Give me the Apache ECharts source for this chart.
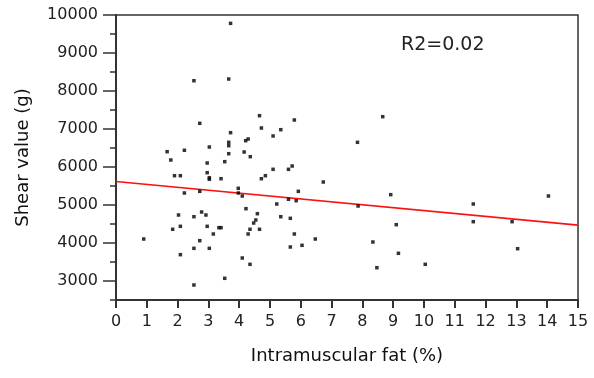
<!DOCTYPE html>
<html><head><meta charset="utf-8">
<script src="https://cdn.jsdelivr.net/npm/echarts@6/dist/echarts.min.js"></script>
<style>html,body{margin:0;padding:0;background:#fff}#c{width:594px;height:378px}</style>
</head><body><div id="c"></div>
<script>
// Intramuscular fat (%) values of samples
var fatValues = [3.72,2.53,3.66,2.72,4.66,5.79,4.72,3.72,5.35,5.10,4.21,4.29,3.66,3.66,3.03,1.66,2.22,4.16,3.66,4.36,1.78,2.96,3.53,5.10,5.60,5.72,1.90,2.09,2.96,3.03,3.03,3.41,4.72,4.85,
6.73,2.22,2.72,3.97,3.97,4.10,5.22,5.60,5.92,5.85,2.78,2.92,2.03,2.53,4.22,4.59,4.54,4.47,5.35,5.66,1.84,2.09,2.96,3.34,3.41,3.16,4.35,4.29,4.66,5.79,0.90,2.72,6.47,2.53,3.03,5.66,6.04,2.09,4.10,4.35,3.53,2.53,
8.66,7.84,8.92,7.86,11.60,11.60,12.86,14.04,9.10,8.34,9.17,8.47,10.04,13.04];
// Shear values (g) of samples
var shearValues = [9780,8270,8315,7150,7350,7237,7026,6903,6982,6816,6692,6737,6650,6560,6526,6403,6440,6395,6350,6271,6184,6105,6140,5939,5939,6026,5771,5771,5850,5718,5676,5692,5692,5771,
5605,5316,5360,5439,5316,5237,5026,5150,5360,5113,4816,4737,4737,4692,4903,4771,4605,4526,4692,4650,4361,4439,4439,4403,4403,4237,4361,4237,4361,4237,4105,4061,4105,3860,3860,3895,3939,3693,3605,3439,3071,2895,
7324,6650,5272,4974,5026,4561,4561,5237,4482,4026,3729,3350,3439,3850];
// Regression line end points
var fitX = [0, 15];
var fitY = [5620, 4470];
// Tick labels
var xTicks = [0,1,2,3,4,5,6,7,8,9,10,11,12,13,14,15];
var yTicks = [3000,4000,5000,6000,7000,8000,9000,10000];
var yMinorTicks = [2500,3500,4500,5500,6500,7500,8500,9500];
var r2Label = 'R2=0.02';

var points = fatValues.map(function(v,i){return [v, shearValues[i]];});
var fitLine = fitX.map(function(v,i){return [v, fitY[i]];});

var chart = echarts.init(document.getElementById('c'), null, {renderer:'canvas'});
var font = 'DejaVu Sans';
var axisColor = '#333';
chart.setOption({
  animation:false,
  grid:{left:116, top:15, right:16, bottom:78, show:true, borderColor:axisColor, borderWidth:1.5, backgroundColor:'transparent'},
  xAxis:{
    type:'value', min:0, max:15, interval:1,
    name:'Intramuscular fat (%)', nameLocation:'middle', nameGap:47,
    nameTextStyle:{fontFamily:font, fontSize:18, color:'#111'},
    axisLine:{show:true, onZero:false, lineStyle:{color:axisColor, width:2}},
    axisTick:{show:true, length:8, lineStyle:{color:axisColor, width:2}, customValues:xTicks},
    axisLabel:{fontFamily:font, fontSize:16, color:'#222', margin:14, customValues:xTicks, formatter:function(v){return String(v);}},
    splitLine:{show:false}
  },
  yAxis:[{
    type:'value', min:2500, max:10000, interval:500,
    name:'Shear value (g)', nameLocation:'middle', nameGap:84, nameRotate:90,
    nameTextStyle:{fontFamily:font, fontSize:18, color:'#111'},
    axisLine:{show:true, onZero:false, lineStyle:{color:axisColor, width:2}},
    axisTick:{show:true, length:13, lineStyle:{color:axisColor, width:1.5}, customValues:yTicks},
    axisLabel:{fontFamily:font, fontSize:16, color:'#222', margin:18, customValues:yTicks, formatter:function(v){return String(v);}},
    splitLine:{show:false}
  },{
    type:'value', min:2500, max:10000, interval:500, position:'left',
    axisLine:{show:false},
    axisTick:{show:true, length:6, lineStyle:{color:axisColor, width:1.5}, customValues:yMinorTicks},
    axisLabel:{show:false},
    splitLine:{show:false}
  }],
  graphic:[{type:'text', left:401, top:36, style:{text:r2Label, font:'19px "DejaVu Sans"', fill:'#222'}}],
  series:[{
    type:'scatter', data:points, symbol:'rect', symbolSize:3.5,
    itemStyle:{color:'#000'}, yAxisIndex:0, z:3
  },{
    type:'line', data:fitLine, symbol:'none', yAxisIndex:0,
    lineStyle:{color:'#ff1010', width:1.6}, z:2
  }]
});
</script></body></html>
